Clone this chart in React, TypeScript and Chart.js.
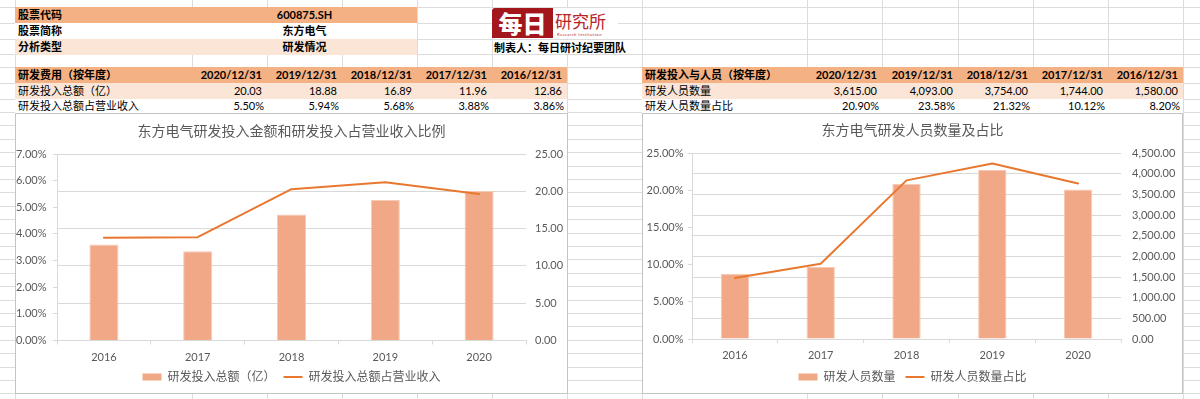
import React, { useEffect, useRef } from 'react';
import { Chart, registerables } from 'chart.js';

Chart.register(...registerables);

// ---------------- data ----------------
const stockCode = '600875.SH';
const stockName = '东方电气';
const analysisType = '研发情况';
const makerNote = '制表人：每日研讨纪要团队';

const years = ['2016', '2017', '2018', '2019', '2020'];
const reportDates = ['2020/12/31', '2019/12/31', '2018/12/31', '2017/12/31', '2016/12/31'];
const rdSpend = [12.86, 11.96, 16.89, 18.88, 20.03]; // 亿
const rdSpendRatio = [3.86, 3.88, 5.68, 5.94, 5.5]; // %
const rdStaff = [1580, 1744, 3754, 4093, 3615];
const rdStaffRatio = [8.2, 10.12, 21.32, 23.58, 20.9]; // %

// ---------------- styles ----------------
const FONT = "Lato, 'Noto Sans CJK SC', sans-serif";
const CJK = "'Noto Sans CJK SC', sans-serif";
const ORANGE = '#F4B183';
const LIGHT = '#FBE5D6';
const BAR = '#F1A886';
const LINE = '#E8782F';
const GRID = '#D9D9D9';
const TEXT = '#595959';
const SHEET = '#DCDCDC';

Chart.defaults.font.family = FONT;
Chart.defaults.color = TEXT;

const fmt2 = (v: number) => v.toFixed(2);
const fmtPct = (v: number) => v.toFixed(2) + '%';
const fmtThousands = (v: number) =>
  v.toLocaleString('en-US', { minimumFractionDigits: 2, maximumFractionDigits: 2 });

const legendLabels = (chart: any) =>
  chart.data.datasets.map((ds: any, i: number) => ({
    text: ds.label,
    fillStyle: ds.type === 'line' ? ds.borderColor : ds.backgroundColor,
    strokeStyle: ds.type === 'line' ? ds.borderColor : ds.backgroundColor,
    lineWidth: ds.type === 'line' ? 2 : 0,
    pointStyle: ds.type === 'line' ? 'line' : 'rect',
    hidden: false,
    datasetIndex: i,
    fontColor: TEXT,
  }));

function comboConfig(o: any): any {
  return {
    type: 'bar',
    data: {
      labels: years,
      datasets: [
        {
          type: 'bar',
          label: o.barLabel,
          data: o.barData,
          yAxisID: 'yR',
          backgroundColor: BAR,
          borderColor: '#F7C9B3',
          borderWidth: 1,
          barPercentage: o.barPct,
          categoryPercentage: 1,
          order: 2,
        },
        {
          type: 'line',
          label: o.lineLabel,
          data: o.lineData,
          yAxisID: 'yL',
          borderColor: LINE,
          backgroundColor: LINE,
          borderWidth: 2,
          pointRadius: 0,
          tension: 0,
          borderJoinStyle: 'round',
          borderCapStyle: 'round',
          order: 1,
        },
      ],
    },
    options: {
      responsive: false,
      maintainAspectRatio: false,
      animation: false,
      events: [],
      layout: { padding: { top: 0, left: 0, right: 0, bottom: 0 } },
      plugins: {
        title: {
          display: true,
          text: o.title,
          color: TEXT,
          font: { family: CJK, size: 14, weight: 'normal' },
          padding: { top: o.titleTop, bottom: o.titleBottom },
        },
        legend: {
          position: 'bottom',
          labels: {
            usePointStyle: true,
            pointStyleWidth: 19,
            boxHeight: 7,
            padding: o.legendPad,
            color: TEXT,
            font: { family: FONT, size: 12 },
            generateLabels: legendLabels,
          },
        },
        tooltip: { enabled: false },
      },
      scales: {
        x: {
          offset: true,
          grid: { offset: true, drawOnChartArea: false, drawTicks: true, tickLength: 4, color: GRID },
          border: { display: true, color: GRID },
          ticks: { color: TEXT, font: { size: 11, lineHeight: 1 }, padding: o.xPad },
          afterFit: (s: any) => {
            s.height = o.xHeight;
          },
        },
        yL: {
          position: 'left',
          min: 0,
          max: o.leftMax,
          ticks: {
            stepSize: o.leftStep,
            color: TEXT,
            font: { size: 11 },
            padding: o.leftPad,
            callback: (v: any) => fmtPct(Number(v)),
          },
          grid: { drawOnChartArea: false, drawTicks: true, tickLength: 4, color: GRID },
          border: { display: true, color: GRID },
          afterFit: (s: any) => {
            s.width = o.leftWidth;
          },
        },
        yR: {
          position: 'right',
          min: 0,
          max: o.rightMax,
          ticks: {
            stepSize: o.rightStep,
            color: TEXT,
            font: { size: 11 },
            padding: o.rightPad,
            callback: (v: any) => o.rightFmt(Number(v)),
          },
          grid: { drawOnChartArea: true, drawTicks: false, color: GRID },
          border: { display: false },
          afterFit: (s: any) => {
            s.width = o.rightWidth;
          },
        },
      },
    },
  };
}

function ChartBox({ left, top, width, height, config }: any) {
  const ref = useRef<HTMLCanvasElement>(null);
  useEffect(() => {
    const chart = new Chart(ref.current as HTMLCanvasElement, config());
    return () => chart.destroy();
  }, []);
  return (
    <div
      style={{
        position: 'absolute',
        left,
        top,
        width,
        height,
        border: '1px solid #C4C4C4',
        background: '#fff',
        boxSizing: 'border-box',
      }}
    >
      <canvas
        ref={ref}
        width={width - 2}
        height={height - 2}
        style={{ display: 'block', width: width - 2, height: height - 2 }}
      />
    </div>
  );
}

// ---------------- sheet layout ----------------
const colXs = [15, 192, 267, 342, 417, 492, 567, 642, 807, 882, 958, 1033, 1108, 1183];
const rowYs: number[] = [7, 23, 39, 54, 67, 83, 99, 112];
for (let k = 1; k <= 21; k++) rowYs.push(Math.round(112 + 13.4 * k));

function Cell({ left, top, width, height, text, align = 'left', bold = false, padL = 3, padR = 5 }: any) {
  return (
    <div
      style={{
        position: 'absolute',
        left,
        top,
        width,
        height,
        lineHeight: height + 'px',
        textAlign: align,
        fontWeight: bold ? 700 : 400,
        paddingLeft: align === 'left' ? padL : 0,
        paddingRight: align === 'right' ? padR : 0,
        boxSizing: 'border-box',
        whiteSpace: 'nowrap',
        color: '#000',
        fontSize: 11,
      }}
    >
      {text}
    </div>
  );
}

function DataTable({ left, labelRight, colRights, top, header, rows }: any) {
  const rowTops = [top, top + 16, top + 32];
  const rowHs = [16, 16, 13.5];
  const right = colRights[colRights.length - 1];
  const bgs = [ORANGE, LIGHT, '#fff'];
  const colLefts = [labelRight, ...colRights.slice(0, -1)];
  const all = [header, ...rows];
  return (
    <>
      {all.map((r: any, ri: number) => (
        <React.Fragment key={ri}>
          <div
            style={{
              position: 'absolute',
              left,
              top: rowTops[ri],
              width: right - left,
              height: rowHs[ri],
              background: bgs[ri],
            }}
          />
          <Cell
            left={left}
            top={rowTops[ri]}
            width={labelRight - left}
            height={rowHs[ri]}
            text={r.label}
            bold={ri === 0}
          />
          {r.values.map((v: string, ci: number) => (
            <Cell
              key={ci}
              left={colLefts[ci]}
              top={rowTops[ri]}
              width={colRights[ci] - colLefts[ci]}
              height={rowHs[ri]}
              text={v}
              align="right"
              bold={ri === 0}
              padR={v.endsWith('%') ? 3 : 5}
            />
          ))}
        </React.Fragment>
      ))}
    </>
  );
}

export default function App() {
  const rev = (a: number[]) => [...a].reverse();
  const chart1 = () =>
    comboConfig({
      title: '东方电气研发投入金额和研发投入占营业收入比例',
      barLabel: '研发投入总额（亿）',
      barData: rdSpend,
      lineLabel: '研发投入总额占营业收入',
      lineData: rdSpendRatio,
      leftMax: 7,
      leftStep: 1,
      rightMax: 25,
      rightStep: 5,
      rightFmt: fmt2,
      leftWidth: 41,
      rightWidth: 41,
      leftPad: 6.5,
      rightPad: 9,
      titleTop: 8.6,
      titleBottom: 14.6,
      xPad: 7.3,
      xHeight: 22.5,
      legendPad: 8,
      barPct: 0.31,
    });
  const chart2 = () =>
    comboConfig({
      title: '东方电气研发人员数量及占比',
      barLabel: '研发人员数量',
      barData: rdStaff,
      lineLabel: '研发人员数量占比',
      lineData: rdStaffRatio,
      leftMax: 25,
      leftStep: 5,
      rightMax: 4500,
      rightStep: 500,
      rightFmt: fmtThousands,
      leftWidth: 49,
      rightWidth: 61,
      leftPad: 4.5,
      rightPad: 11,
      titleTop: 7.6,
      titleBottom: 14.6,
      xPad: 6.5,
      xHeight: 22,
      legendPad: 10,
      barPct: 0.33,
    });

  return (
    <div
      style={{
        position: 'fixed',
        left: 0,
        top: 0,
        width: 1200,
        height: 399,
        background: '#fff',
        overflow: 'hidden',
        fontFamily: FONT,
        fontSize: 11,
      }}
    >
      {/* sheet gridlines */}
      {rowYs.map((y, i) => (
        <div key={'r' + i} style={{ position: 'absolute', left: 0, top: y, width: 1200, height: 1, background: SHEET }} />
      ))}
      {colXs.map((x, i) => (
        <div key={'c' + i} style={{ position: 'absolute', left: x, top: 0, width: 1, height: 399, background: SHEET }} />
      ))}

      {/* stock info block */}
      {[
        { label: '股票代码', value: stockCode, bg: ORANGE },
        { label: '股票简称', value: stockName, bg: '#fff' },
        { label: '分析类型', value: analysisType, bg: LIGHT },
      ].map((r, i) => (
        <React.Fragment key={'info' + i}>
          <div style={{ position: 'absolute', left: 15, top: 7 + i * 16, width: 402, height: i === 2 ? 15.5 : 16, background: r.bg }} />
          <Cell left={15} top={7 + i * 16} width={177} height={16} text={r.label} bold />
          <Cell left={192} top={7 + i * 16} width={225} height={16} text={r.value} bold align="center" />
        </React.Fragment>
      ))}

      {/* logo */}
      <div style={{ position: 'absolute', left: 492, top: 8, width: 126, height: 30, background: '#fff' }} />
      <div
        style={{
          position: 'absolute',
          left: 492,
          top: 8,
          width: 61,
          height: 30,
          background: '#A3161C',
          borderTopLeftRadius: 3,
          color: '#fff',
          fontFamily: CJK,
          fontWeight: 900,
          fontSize: 24,
          lineHeight: '30px',
          textAlign: 'center',
        }}
      >
        每日
      </div>
      <div
        style={{
          position: 'absolute',
          left: 555,
          top: 11,
          width: 60,
          height: 20,
          color: '#B7232A',
          fontFamily: CJK,
          fontSize: 17,
          lineHeight: '20px',
          whiteSpace: 'nowrap',
        }}
      >
        研究所
      </div>
      <div
        style={{
          position: 'absolute',
          left: 557,
          top: 32,
          width: 60,
          height: 5,
          color: '#B7232A',
          fontSize: 4,
          lineHeight: '5px',
          whiteSpace: 'nowrap',
          letterSpacing: 0.5,
        }}
      >
        Research Institution
      </div>
      <div
        style={{
          position: 'absolute',
          left: 493,
          top: 40,
          width: 134,
          height: 14,
          background: '#fff',
          fontFamily: CJK,
          fontWeight: 700,
          fontSize: 11,
          lineHeight: '14px',
          paddingLeft: 1,
          whiteSpace: 'nowrap',
          color: '#000',
        }}
      >
        {makerNote}
      </div>

      {/* R&D spending table */}
      <DataTable
        left={15}
        labelRight={192}
        colRights={[267, 342, 417, 492, 567]}
        top={67}
        header={{ label: '研发费用（按年度）', values: reportDates }}
        rows={[
          { label: '研发投入总额（亿）', values: rev(rdSpend).map(fmt2) },
          { label: '研发投入总额占营业收入', values: rev(rdSpendRatio).map(fmtPct) },
        ]}
      />

      {/* R&D staff table */}
      <DataTable
        left={642}
        labelRight={807}
        colRights={[882, 958, 1033, 1108, 1183]}
        top={67}
        header={{ label: '研发投入与人员（按年度）', values: reportDates }}
        rows={[
          { label: '研发人员数量', values: rev(rdStaff).map(fmtThousands) },
          { label: '研发人员数量占比', values: rev(rdStaffRatio).map(fmtPct) },
        ]}
      />

      <ChartBox left={15} top={113} width={553} height={281} config={chart1} />
      <ChartBox left={642} top={113} width={541} height={281} config={chart2} />
    </div>
  );
}
